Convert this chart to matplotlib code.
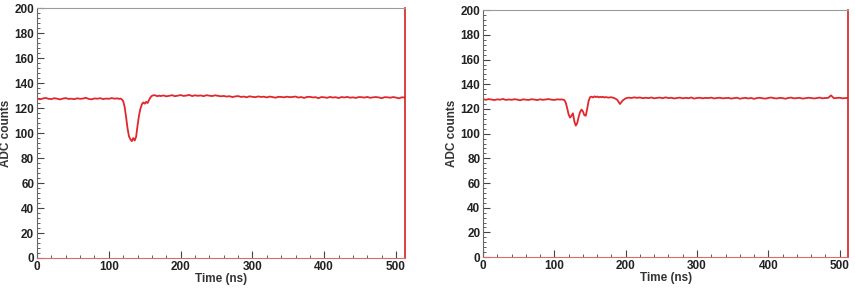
import numpy as np
import matplotlib
matplotlib.use("Agg")
import matplotlib.pyplot as plt
from matplotlib.ticker import MultipleLocator

# ADC samples (ns on a mixed 4/2/4 ns grid)
left_pre = [127.8, 127.0, 127.6, 128.1, 127.4, 127.2, 127.9, 127.5, 126.9, 127.6,
            128.0, 127.3, 127.5, 127.1, 127.8, 127.4, 127.6, 128.2, 127.3, 127.0,
            127.7, 127.5, 127.9, 127.2, 127.6, 127.4, 128.0, 127.5]
left_pulse = [127.6, 127.8, 127.3, 127.6, 127.0, 125.5, 121.0, 113.0, 104.0, 97.5,
              95.0, 93.5, 96.0, 94.0, 97.0, 106.0, 114.0, 119.5, 123.0, 124.5,
              123.5, 125.0, 124.0, 126.5, 128.5, 129.8, 130.2, 130.3, 129.8, 129.5,
              130.0]
left_post = [129.6, 130.1, 129.4, 129.8, 130.3, 129.5, 129.9, 130.4, 129.7, 130.0,
             130.5, 129.6, 130.2, 129.8, 130.1, 129.5, 130.3, 129.9, 129.6, 130.2,
             129.8, 129.4,
             129.7, 129.2, 129.5, 128.8, 129.3, 129.6, 128.9, 129.2, 128.6, 129.4,
             129.0, 128.7, 129.3, 128.9, 129.1, 128.5, 129.2, 128.8, 128.3, 129.0,
             128.9,
             128.6, 129.1, 128.7, 128.9, 129.2, 128.4, 128.8, 128.1, 128.9, 129.0,
             128.5, 128.7, 127.9, 128.8, 128.6, 128.2, 128.9, 128.4, 128.7, 128.0,
             128.8, 128.5, 128.9, 128.3, 128.6, 128.1, 128.8, 128.7, 128.4, 128.9,
             128.2, 128.6, 128.8, 128.5, 127.9, 128.7, 128.6, 128.3, 128.8, 128.4,
             127.8, 128.6, 128.5]

right_pre = [127.9, 127.4, 128.0, 127.6, 127.2, 127.8, 127.5, 128.1, 127.3, 127.7,
             127.4, 127.9, 127.6, 127.0, 127.8, 127.5, 127.3, 127.9, 127.6, 127.2,
             127.8, 127.4, 127.7, 128.0, 127.5, 127.3, 127.8, 127.6]
right_pulse = [127.8, 127.5, 127.2, 125.0, 120.5, 115.5, 113.0, 114.5, 116.5, 110.0,
               106.5, 108.5, 113.5, 117.5, 119.5, 118.0, 115.0, 114.5, 120.0, 126.5,
               129.5, 130.0, 129.3, 130.2, 129.6, 130.1, 129.4, 129.8, 129.5, 129.9,
               129.3]
right_post = [129.6, 129.2, 129.5, 128.8, 127.5, 124.0, 127.0, 128.6, 129.2, 128.9,
              129.4, 129.0, 129.3, 128.7, 129.1, 128.8, 129.3, 128.6, 129.0, 129.2,
              128.7, 129.4,
              128.8, 129.1, 128.5, 128.9, 129.2, 128.6, 129.0, 128.7, 129.3, 128.4,
              128.9, 129.1, 128.6, 129.0, 128.8, 129.2, 128.5, 128.9, 129.1, 128.6,
              128.8,
              129.0, 128.4, 128.8, 129.1, 128.3, 128.7, 129.0, 128.5, 128.9, 128.2,
              128.8, 129.1, 128.6, 128.4, 128.9, 129.3, 128.7, 128.5, 129.0, 128.8,
              128.3, 128.9, 129.2, 128.6, 128.8, 129.0, 128.4, 128.7, 129.1, 128.9,
              128.5, 128.8, 129.2, 128.6, 128.9, 129.0, 131.0, 128.7, 128.9, 129.1,
              128.6, 128.8, 129.0]


def build(pre, pulse, post):
    t = np.concatenate([0 + 4 * np.arange(len(pre)),
                        110 + 2 * np.arange(len(pulse)),
                        172 + 4 * np.arange(len(post))])
    return t, np.array(pre + pulse + post)


def style_axis(ax):
    ax.set_xlim(0, 512)
    ax.set_ylim(0, 200)
    ax.xaxis.set_major_locator(MultipleLocator(100))
    ax.xaxis.set_minor_locator(MultipleLocator(20))
    ax.yaxis.set_major_locator(MultipleLocator(20))
    ax.yaxis.set_minor_locator(MultipleLocator(4))
    ax.tick_params(which='both', direction='in', top=False, right=False,
                   colors='#444444', labelcolor='#222222', labelsize=8.5, pad=2)
    ax.tick_params(which='major', length=5, width=0.8)
    ax.tick_params(which='minor', length=2.5, width=0.6)
    for lab in ax.get_xticklabels() + ax.get_yticklabels():
        lab.set_fontweight('bold')
    ax.spines['top'].set_color('#9a9a9a')
    ax.spines['left'].set_color('#666666')
    ax.spines['bottom'].set_color('#e06a6a')
    ax.spines['right'].set_color('#d42020')
    ax.spines['right'].set_linewidth(1.2)
    ax.set_xlabel('Time (ns)', fontsize=8.5, fontweight='bold', color='#333333', labelpad=0)
    ax.set_ylabel('ADC counts', fontsize=8.5, fontweight='bold', color='#333333', labelpad=2)


plt.rcParams['font.family'] = ['Liberation Sans', 'DejaVu Sans']
fig = plt.figure(figsize=(8.55, 3.0), dpi=100)
ax1 = fig.add_axes([0.0433, 0.14, 0.430, 0.833])
ax2 = fig.add_axes([0.565, 0.143, 0.427, 0.823])

for ax, (pre, pulse, post) in [(ax1, (left_pre, left_pulse, left_post)),
                               (ax2, (right_pre, right_pulse, right_post))]:
    t, v = build(pre, pulse, post)
    ax.plot(t, v, color='#e2262c', linewidth=1.3)
    style_axis(ax)

fig.savefig('out.png', dpi=100)
